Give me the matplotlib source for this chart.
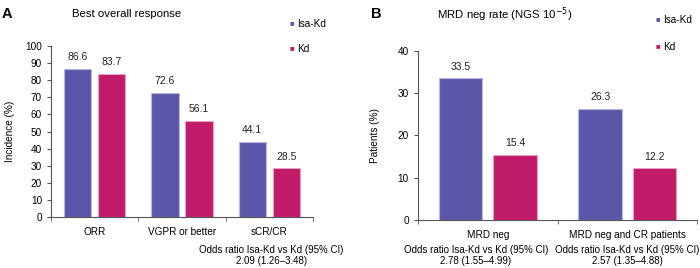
import matplotlib.pyplot as plt
import numpy as np

plt.rcParams['font.family'] = ['Liberation Sans', 'DejaVu Sans']
plt.rcParams['font.size'] = 7

series = ['Isa-Kd', 'Kd']
colors = ['#5a57a8', '#c01a68']
edges = ['#b9b6e6', '#e9a0c2']

cats_a = ['ORR', 'VGPR or better', 'sCR/CR']
isa_a = [86.6, 72.6, 44.1]
kd_a = [83.7, 56.1, 28.5]

cats_b = ['MRD neg', 'MRD neg and CR patients']
isa_b = [33.5, 26.3]
kd_b = [15.4, 12.2]

odds_a = ['2.09 (1.26\u20133.48)']
odds_b = ['2.78 (1.55\u20134.99)', '2.57 (1.35\u20134.88)']

fig = plt.figure(figsize=(7, 2.68), dpi=100)
axa = fig.add_axes([0.073, 0.190, 0.374, 0.638])
axb = fig.add_axes([0.597, 0.179, 0.399, 0.631])

w = 0.31
gap = 0.08


def draw(ax, cats, isa, kd, ymax, ystep, ylabel, lpad):
    x = np.arange(len(cats))
    for vals, off, c, e in [(isa, -(w + gap) / 2, colors[0], edges[0]),
                            (kd, (w + gap) / 2, colors[1], edges[1])]:
        ax.bar(x + off, vals, w, color=c, edgecolor=e, linewidth=0.8)
        for xi, v in zip(x + off, vals):
            ax.text(xi, v + ymax * 0.04, f'{v:.1f}', ha='center', va='bottom', fontsize=7.5, color='#222222')
    ax.set_xlim(-0.5, len(cats) - 0.5)
    ax.set_ylim(0, ymax)
    ax.set_yticks(np.arange(0, ymax + 1, ystep))
    ax.set_xticks(x)
    ax.set_xticklabels(cats, fontsize=7.2)
    ax.set_xticks(np.arange(-0.5, len(cats)), minor=True)
    ax.tick_params(axis='x', which='major', length=0, pad=7)
    ax.tick_params(axis='x', which='minor', length=3, color='#555555')
    ax.tick_params(axis='y', length=3, color='#555555', labelsize=7.2)
    for s in ['top', 'right']:
        ax.spines[s].set_visible(False)
    for s in ['left', 'bottom']:
        ax.spines[s].set_color('#555555')
        ax.spines[s].set_linewidth(0.8)
    ax.set_ylabel(ylabel, labelpad=lpad, fontsize=7.2)


draw(axa, cats_a, isa_a, kd_a, 100, 10, 'Incidence (%)', 7)
draw(axb, cats_b, isa_b, kd_b, 40, 10, 'Patients (%)', 13)

# panel letters and titles
fig.text(0.002, 0.975, 'A', fontsize=10.5, fontweight='bold', va='top')
fig.text(0.530, 0.975, 'B', fontsize=10.5, fontweight='bold', va='top')
fig.text(0.181, 0.946, 'Best overall response', fontsize=8.2, ha='center', va='center')
fig.text(0.721, 0.946, 'MRD neg rate (NGS 10$^{\\mathsf{-5}}$)', fontsize=8.2, ha='center', va='center')

# legends
for (lx, ly0, dy) in [(0.417, 0.910, 0.093), (0.940, 0.925, 0.100)]:
    for i, (s, c) in enumerate(zip(series, colors)):
        fig.text(lx, ly0 - i * dy, '\u25a0', color=c, fontsize=5.5, ha='center', va='center')
        fig.text(lx + 0.007, ly0 - i * dy, s, fontsize=7.2, va='center')

# odds ratio footnotes
for xc, txt in [(0.388, odds_a[0]), (0.680, odds_b[0]), (0.896, odds_b[1])]:
    fig.text(xc, 0.067, 'Odds ratio Isa-Kd vs Kd (95% CI)', ha='center', va='center', fontsize=7)
    fig.text(xc, 0.026, txt, ha='center', va='center', fontsize=7)

fig.savefig('out.png', dpi=100)
